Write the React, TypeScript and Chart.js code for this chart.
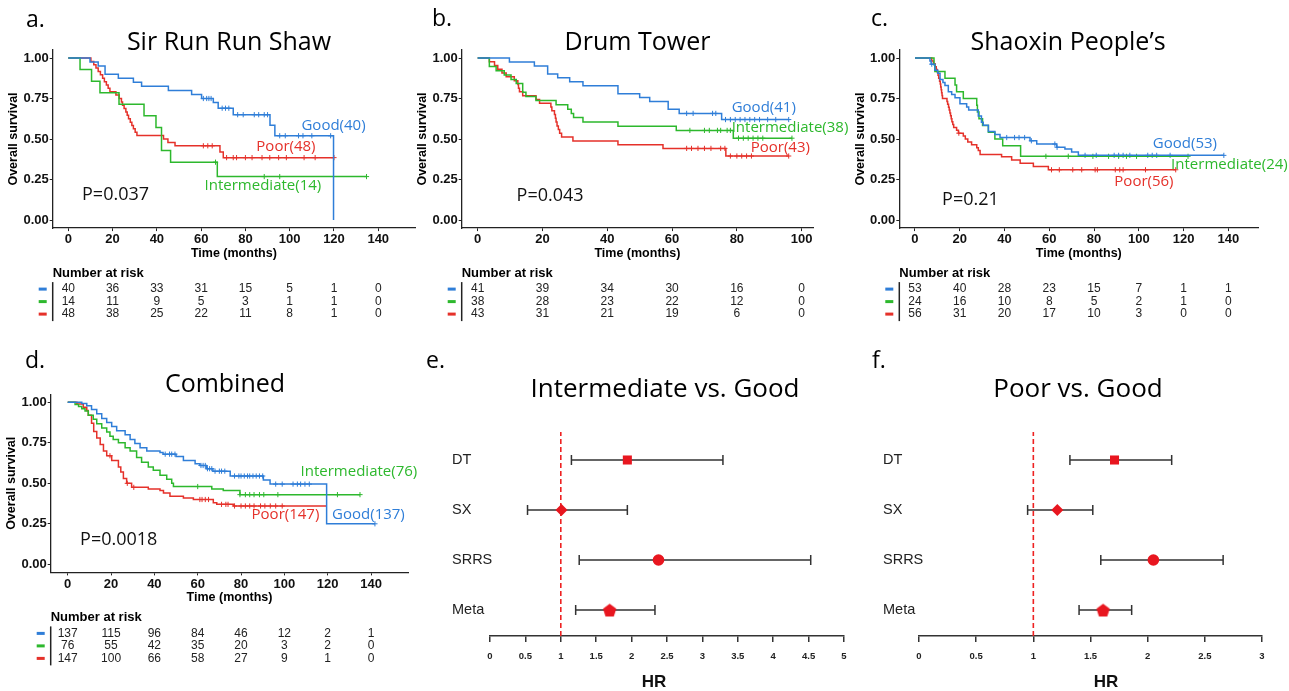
import React, { useEffect, useRef } from 'react';
import { Chart, registerables } from 'chart.js';

Chart.register(...registerables);

// ---------------- data ----------------
const GROUPS = ['Good', 'Intermediate', 'Poor'];
const STUDIES = ['DT', 'SX', 'SRRS', 'Meta'];
const ROW_POS = [4, 3, 2, 1];

// Panel a: Sir Run Run Shaw
const aGoodT = [0, 9.8, 13.5, 16.6, 22.6, 29.4, 33.1, 45.2, 55.7, 60.2, 65.5, 67.7, 74.5, 91.1, 93.3, 119.8];
const aGoodS = [1, 0.975, 0.95, 0.9, 0.875, 0.85, 0.825, 0.8, 0.775, 0.75, 0.725, 0.69, 0.65, 0.585, 0.52, 0];
const aGoodC = [61, 62.5, 63.5, 64.5, 69.5, 71, 72.5, 76.5, 79, 84, 86, 88.5, 90, 95.5, 98, 104, 106, 110, 118.5];
const aIntT = [0, 5.3, 10.5, 14.3, 22.9, 34.2, 39.6, 42.1, 46.2, 67.3, 134.7];
const aIntS = [1, 0.929, 0.857, 0.786, 0.714, 0.643, 0.571, 0.429, 0.357, 0.268, 0.268];
const aIntC = [66.5, 88.5, 95.5, 134.7];
const aPoorT = [0, 10.2, 11.5, 12.5, 13.5, 14.5, 15.5, 16.3, 17.2, 18, 18.8, 21.5, 23, 24, 24.5, 25.2, 26, 26.6, 27.2, 28, 28.7, 29.4, 30.2, 31, 43, 45, 48.2, 68.5, 70, 120];
const aPoorS = [1, 0.979, 0.958, 0.938, 0.917, 0.896, 0.875, 0.854, 0.833, 0.813, 0.792, 0.771, 0.75, 0.729, 0.708, 0.688, 0.667, 0.646, 0.625, 0.604, 0.583, 0.563, 0.542, 0.521, 0.5, 0.479, 0.458, 0.42, 0.385, 0.385];
const aPoorC = [61, 63, 65, 71.5, 74.5, 76, 80, 83, 87.5, 91, 95, 98.5, 106.5, 111.5, 120];
const aRisk = [
  [40, 36, 33, 31, 15, 5, 1, 0],
  [14, 11, 9, 5, 3, 1, 1, 0],
  [48, 38, 25, 22, 11, 8, 1, 0],
];

// Panel b: Drum Tower
const bGoodT = [0, 9.8, 17.5, 21.6, 24.7, 28.4, 32.5, 43.3, 50, 53.1, 58.8, 62.2, 75.3, 96];
const bGoodS = [1, 0.976, 0.951, 0.902, 0.878, 0.854, 0.829, 0.78, 0.756, 0.732, 0.683, 0.658, 0.62, 0.62];
const bGoodC = [64.5, 66.5, 72.5, 73.5, 76.5, 78, 79.5, 81, 82.5, 84, 85.5, 87, 89.5, 92, 96];
const bIntT = [0, 3.6, 5.7, 8.2, 10.3, 11.9, 13.9, 14.9, 18, 24.2, 27.8, 28.9, 29.6, 32.5, 43.3, 61.3, 78.9, 97];
const bIntS = [1, 0.947, 0.921, 0.895, 0.868, 0.842, 0.789, 0.763, 0.737, 0.711, 0.684, 0.658, 0.632, 0.605, 0.579, 0.553, 0.505, 0.505];
const bIntC = [65.5, 70, 71.5, 74, 75, 77, 78, 80.5, 82, 83.5, 85, 86.5, 88, 97];
const bPoorT = [0, 3.6, 5.2, 6.2, 7.5, 8.8, 11.3, 12.4, 12.6, 12.9, 13.9, 18, 19.1, 22.6, 22.9, 23.7, 24.0, 24.2, 24.5, 24.9, 25.3, 25.9, 29.4, 43.3, 57.2, 76.6, 96];
const bPoorS = [1, 0.977, 0.953, 0.93, 0.907, 0.884, 0.86, 0.837, 0.814, 0.791, 0.767, 0.744, 0.721, 0.698, 0.674, 0.651, 0.628, 0.605, 0.581, 0.558, 0.535, 0.512, 0.488, 0.465, 0.442, 0.395, 0.395];
const bPoorC = [64.5, 66, 68, 70, 72, 75, 76.3, 78, 80, 81.5, 83, 84.5, 96];
const bRisk = [
  [41, 39, 34, 30, 16, 0],
  [38, 28, 23, 22, 12, 0],
  [43, 31, 21, 19, 6, 0],
];

// Panel c: Shaoxin People's
const cGoodT = [0, 6.7, 7.2, 8.9, 10.2, 11.2, 12.5, 13.4, 14.9, 16.4, 17.9, 20.1, 23.1, 24, 28.3, 29.7, 30.5, 32.8, 35.7, 38, 51.4, 54.4, 63.3, 67, 70, 73, 138];
const cGoodS = [1, 0.981, 0.962, 0.925, 0.906, 0.868, 0.849, 0.83, 0.792, 0.774, 0.755, 0.717, 0.698, 0.679, 0.642, 0.604, 0.585, 0.547, 0.528, 0.509, 0.489, 0.469, 0.449, 0.439, 0.419, 0.399, 0.399];
const cGoodC = [7.5, 41, 44.5, 46.5, 49, 52, 62.5, 63.5, 76, 81, 89, 91, 93, 96, 104, 106, 108, 114, 138];
const cIntT = [0, 8.5, 8.9, 13.4, 17.9, 18.6, 21.6, 27.6, 27.9, 28.6, 30.2, 32.8, 35.7, 39.2, 47.2, 122];
const cIntS = [1, 0.958, 0.917, 0.875, 0.833, 0.792, 0.75, 0.708, 0.667, 0.625, 0.583, 0.542, 0.5, 0.458, 0.393, 0.393];
const cIntC = [58.5, 68.5, 79.5, 86.5, 91, 94.5, 99, 122];
const cPoorT = [0, 7.5, 8.3, 9, 9.5, 10, 10.3, 10.6, 11, 11.3, 11.5, 11.7, 11.9, 12.1, 12.3, 14.3, 14.6, 15, 15.3, 15.6, 15.9, 16.2, 16.5, 16.9, 17.3, 18.6, 19.4, 21.6, 22.5, 23.6, 25.3, 27.6, 28.3, 29.1, 38.7, 43.2, 47, 52.9, 59.6, 116.5];
const cPoorS = [1, 0.982, 0.964, 0.946, 0.929, 0.911, 0.893, 0.875, 0.857, 0.839, 0.821, 0.804, 0.786, 0.768, 0.75, 0.732, 0.714, 0.696, 0.679, 0.661, 0.643, 0.625, 0.607, 0.589, 0.571, 0.554, 0.536, 0.518, 0.5, 0.482, 0.464, 0.446, 0.429, 0.405, 0.39, 0.37, 0.35, 0.33, 0.31, 0.31];
const cPoorC = [19.6, 61, 64.5, 70.5, 74.5, 80.5, 81.5, 89.5, 91.5, 93, 103, 116.5];
const cRisk = [
  [53, 40, 28, 23, 15, 7, 1, 1],
  [24, 16, 10, 8, 5, 2, 1, 0],
  [56, 31, 20, 17, 10, 3, 0, 0],
];

// Panel d: Combined
const dGoodT = [0, 6.5, 8.8, 11, 13.4, 15.7, 18, 20.3, 22.6, 26.5, 28.8, 31, 33.4, 36.5, 42.6, 44, 50, 53.4, 58.8, 61, 64, 67, 75, 90.3, 93.4, 119.5, 141.8];
const dGoodS = [1, 0.993, 0.978, 0.956, 0.93, 0.9, 0.875, 0.85, 0.825, 0.8, 0.77, 0.745, 0.72, 0.7, 0.69, 0.68, 0.665, 0.64, 0.62, 0.61, 0.59, 0.575, 0.545, 0.52, 0.495, 0.25, 0.25];
const dGoodC = [45, 47, 48, 49.5, 61.5, 62.5, 63.5, 64.5, 65.5, 66.5, 68, 70, 71, 72.5, 77, 79, 80, 81.5, 83, 84, 85.5, 87, 88.5, 90, 96, 99, 104, 106, 107.5, 109.5, 111.5, 141.8];
const dIntT = [0, 3.4, 5, 6.5, 8, 9.5, 11.8, 13.4, 15.7, 18, 19.5, 21, 23.4, 26.5, 28.8, 31.8, 34.1, 37.2, 39.5, 42.6, 45.7, 48, 48.8, 66.5, 71.8, 79.5, 134.9];
const dIntS = [1, 0.987, 0.974, 0.96, 0.947, 0.92, 0.895, 0.868, 0.842, 0.816, 0.79, 0.77, 0.75, 0.72, 0.7, 0.66, 0.63, 0.6, 0.58, 0.55, 0.525, 0.5, 0.48, 0.465, 0.455, 0.43, 0.43];
const dIntC = [60, 79.5, 82, 84, 86, 88.5, 90.5, 97, 124.5, 134.9];
const dPoorT = [0, 4.2, 7.2, 8.8, 9.5, 11, 12, 13.4, 15, 16.5, 18, 20.3, 23.4, 24.5, 25.7, 27.2, 29.5, 37.2, 42.6, 44.2, 47.2, 53.4, 58, 67.2, 68.8, 76.5, 119.5];
const dPoorS = [1, 0.99, 0.97, 0.95, 0.92, 0.87, 0.82, 0.78, 0.74, 0.7, 0.67, 0.64, 0.6, 0.57, 0.53, 0.5, 0.475, 0.465, 0.455, 0.44, 0.42, 0.41, 0.4, 0.38, 0.37, 0.36, 0.36];
const dPoorC = [19.5, 27.5, 30.5, 61, 62, 63.5, 65, 71, 73, 74, 77, 80, 82, 84, 86, 89, 91, 93.5, 96, 99];
const dRisk = [
  [137, 115, 96, 84, 46, 12, 2, 1],
  [76, 55, 42, 35, 20, 3, 2, 0],
  [147, 100, 66, 58, 27, 9, 1, 0],
];

const TICKS_140 = [0, 20, 40, 60, 80, 100, 120, 140];
const TICKS_100 = [0, 20, 40, 60, 80, 100];
const Y_TICKS = [0, 0.25, 0.5, 0.75, 1];

// Forest e: Intermediate vs. Good
const eHR = [1.94, 1.01, 2.38, 1.69];
const eLow = [1.15, 0.53, 1.26, 1.21];
const eHigh = [3.29, 1.94, 4.53, 2.33];
// Forest f: Poor vs. Good
const fHR = [1.71, 1.21, 2.05, 1.61];
const fLow = [1.32, 0.95, 1.59, 1.40];
const fHigh = [2.21, 1.52, 2.66, 1.86];

// ---------------- styles ----------------
const BLUE = '#2F7ED8';
const GREEN = '#2DB82D';
const RED = '#E5312A';
const COLORS = [BLUE, GREEN, RED];
const F_RED = '#E8161F';
const SANS = '"Open Sans", "Noto Sans", sans-serif';
const ARIAL = '"Liberation Sans", Arial, sans-serif';

type Box = { left: number; top: number; width: number; height: number };
type Area = { l: number; t: number; r: number; b: number };
type Curve = { t: number[]; s: number[]; c: number[] };
type KMPanel = {
  box: Box; area: Area; xMin: number; xMax: number; xTicks: number[];
  curves: Curve[]; risk: number[][];
  letter: string; letterX: number; letterY: number;
  title: string; titleX: number; titleY: number;
  labelPos: number[][]; pValue: string; pPos: number[];
};
type ForestPanel = {
  box: Box; area: Area; xMax: number;
  letter: string; letterX: number; letterY: number;
  title: string; titleX: number; titleY: number;
  labelX: number; hrX: number; hrY: number;
  hr: number[]; lo: number[]; hi: number[];
};

const KM_PANELS: KMPanel[] = [
  {
    box: { left: 0, top: 0, width: 430, height: 345 },
    area: { l: 52.7, t: 49.9, r: 415, b: 228.1 },
    xMin: -7.05, xMax: 156.6, xTicks: TICKS_140,
    curves: [{ t: aGoodT, s: aGoodS, c: aGoodC }, { t: aIntT, s: aIntS, c: aIntC }, { t: aPoorT, s: aPoorS, c: aPoorC }],
    risk: aRisk, letter: 'a.', letterX: 26, letterY: 27,
    title: 'Sir Run Run Shaw', titleX: 229, titleY: 50,
    labelPos: [[119.8, 0.58], [87.9, 0.21], [98.3, 0.45]], pValue: 'P=0.037', pPos: [6.2, 0.154],
  },
  {
    box: { left: 410, top: 0, width: 450, height: 345 },
    area: { l: 461.7, t: 49.9, r: 813, b: 228.1 },
    xMin: -4.93, xMax: 103.5, xTicks: TICKS_100,
    curves: [{ t: bGoodT, s: bGoodS, c: bGoodC }, { t: bIntT, s: bIntS, c: bIntC }, { t: bPoorT, s: bPoorS, c: bPoorC }],
    risk: bRisk, letter: 'b.', letterX: 432, letterY: 26,
    title: 'Drum Tower', titleX: 637.5, titleY: 50,
    labelPos: [[88.3, 0.69], [96.4, 0.568], [93.4, 0.444]], pValue: 'P=0.043', pPos: [12, 0.148],
  },
  {
    box: { left: 845, top: 0, width: 444, height: 345 },
    area: { l: 899.3, t: 49.9, r: 1258.3, b: 228.1 },
    xMin: -7.0, xMax: 153.4, xTicks: TICKS_140,
    curves: [{ t: cGoodT, s: cGoodS, c: cGoodC }, { t: cIntT, s: cIntS, c: cIntC }, { t: cPoorT, s: cPoorS, c: cPoorC }],
    risk: cRisk, letter: 'c.', letterX: 871, letterY: 26,
    title: 'Shaoxin People’s', titleX: 1068, titleY: 50,
    labelPos: [[120.6, 0.469], [140.5, 0.34], [102.3, 0.235]], pValue: 'P=0.21', pPos: [12.1, 0.123],
  },
  {
    box: { left: 0, top: 345, width: 422, height: 346 },
    area: { l: 50.7, t: 394.2, r: 408.3, b: 572.4 },
    xMin: -7.85, xMax: 157.2, xTicks: TICKS_140,
    curves: [{ t: dGoodT, s: dGoodS, c: dGoodC }, { t: dIntT, s: dIntS, c: dIntC }, { t: dPoorT, s: dPoorS, c: dPoorC }],
    risk: dRisk, letter: 'd.', letterX: 25, letterY: 368,
    title: 'Combined', titleX: 225, titleY: 392,
    labelPos: [[138.8, 0.304], [134.4, 0.57], [100.5, 0.304]], pValue: 'P=0.0018', pPos: [5.7, 0.15],
  },
];

const FOREST_PANELS: ForestPanel[] = [
  {
    box: { left: 422, top: 345, width: 438, height: 346 },
    area: { l: 490, t: 432, r: 844, b: 636 }, xMax: 5,
    letter: 'e.', letterX: 426, letterY: 368,
    title: 'Intermediate vs. Good', titleX: 665, titleY: 397,
    labelX: 452, hrX: 654, hrY: 682, hr: eHR, lo: eLow, hi: eHigh,
  },
  {
    box: { left: 860, top: 345, width: 429, height: 346 },
    area: { l: 919, t: 432, r: 1262, b: 636 }, xMax: 3,
    letter: 'f.', letterX: 872, letterY: 368,
    title: 'Poor vs. Good', titleX: 1078, titleY: 397,
    labelX: 883, hrX: 1106, hrY: 682, hr: fHR, lo: fLow, hi: fHigh,
  },
];

// ---------------- helpers ----------------
function survAt(t: number[], s: number[], x: number) {
  let v = s[0];
  for (let i = 0; i < t.length; i++) if (t[i] <= x) v = s[i];
  return v;
}

function kmPlugin(p: KMPanel) {
  return {
    id: 'kmText',
    afterDraw(chart: any) {
      const ctx = chart.ctx as CanvasRenderingContext2D;
      const xs = chart.scales.x;
      const ys = chart.scales.y;
      const ca = chart.chartArea;
      const ox = p.box.left;
      const oy = p.box.top;
      ctx.save();
      ctx.fillStyle = '#000';
      ctx.textBaseline = 'alphabetic';
      ctx.textAlign = 'left';
      ctx.font = `23px ${SANS}`;
      ctx.fillText(p.letter, p.letterX - ox, p.letterY - oy);
      ctx.font = `25px ${SANS}`;
      ctx.textAlign = 'center';
      ctx.fillText(p.title, p.titleX - ox, p.titleY - oy);

      // axis titles
      ctx.save();
      ctx.translate(ca.left - 39, (ys.getPixelForValue(0) + ys.getPixelForValue(1)) / 2);
      ctx.rotate(-Math.PI / 2);
      ctx.font = `bold 12.5px ${ARIAL}`;
      ctx.textAlign = 'center';
      ctx.textBaseline = 'middle';
      ctx.fillText('Overall survival', 0, 0);
      ctx.restore();
      ctx.font = `bold 12.5px ${ARIAL}`;
      ctx.textAlign = 'center';
      ctx.textBaseline = 'middle';
      ctx.fillText('Time (months)', (ca.left + ca.right) / 2, ca.bottom + 25);

      // curve labels
      ctx.font = `15px ${SANS}`;
      p.labelPos.forEach((pos, i) => {
        ctx.fillStyle = COLORS[i];
        ctx.fillText(`${GROUPS[i]}(${p.risk[i][0]})`, xs.getPixelForValue(pos[0]), ys.getPixelForValue(pos[1]));
      });
      // p value
      ctx.fillStyle = '#111';
      ctx.font = `18px ${SANS}`;
      ctx.textAlign = 'left';
      ctx.fillText(p.pValue, xs.getPixelForValue(p.pPos[0]), ys.getPixelForValue(p.pPos[1]));

      // risk table
      ctx.fillStyle = '#000';
      ctx.font = `bold 13px ${ARIAL}`;
      ctx.fillText('Number at risk', ca.left, ca.bottom + 45);
      const rowY = [61, 73.5, 86];
      ctx.font = `12px ${ARIAL}`;
      ctx.textAlign = 'center';
      p.risk.forEach((row, i) => {
        const y = ca.bottom + rowY[i];
        ctx.fillStyle = COLORS[i];
        ctx.fillRect(ca.left - 14, y - 1.5, 8, 3);
        ctx.fillStyle = '#222';
        row.forEach((n, j) => {
          ctx.fillText(String(n), xs.getPixelForValue(p.xTicks[j]), y);
        });
      });
      ctx.strokeStyle = '#222';
      ctx.lineWidth = 1.5;
      ctx.beginPath();
      ctx.moveTo(ca.left, ca.bottom + 54);
      ctx.lineTo(ca.left, ca.bottom + 93);
      ctx.stroke();
      ctx.restore();
    },
  };
}

function makeKM(cv: HTMLCanvasElement, p: KMPanel) {
  const W = p.box.width;
  const H = p.box.height;
  const a = { l: p.area.l - p.box.left, t: p.area.t - p.box.top, r: p.area.r - p.box.left, b: p.area.b - p.box.top };
  const datasets: any[] = [];
  p.curves.forEach((c, i) => {
    datasets.push({
      type: 'line',
      data: c.t.map((t, j) => ({ x: t, y: c.s[j] })),
      borderColor: COLORS[i],
      borderWidth: 1.5,
      stepped: 'before',
      pointRadius: 0,
      fill: false,
    });
  });
  p.curves.forEach((c, i) => {
    datasets.push({
      type: 'line',
      showLine: false,
      data: c.c.map((t) => ({ x: t, y: survAt(c.t, c.s, t) })),
      pointStyle: 'cross',
      pointRadius: 2.6,
      pointBorderWidth: 1,
      borderColor: COLORS[i],
      backgroundColor: COLORS[i],
    });
  });
  const tickFont = { family: ARIAL, size: 13, weight: 'bold' as const };
  return new Chart(cv, {
    type: 'line',
    data: { datasets },
    options: {
      responsive: false,
      animation: false,
      events: [],
      layout: { padding: { left: 0, top: a.t, right: W - a.r, bottom: 0 } },
      plugins: { legend: { display: false }, tooltip: { enabled: false }, title: { display: false } },
      scales: {
        x: {
          type: 'linear',
          min: p.xMin,
          max: p.xMax,
          afterBuildTicks: (s: any) => { s.ticks = p.xTicks.map((v) => ({ value: v })); },
          afterFit: (s: any) => { s.height = H - a.b; },
          grid: { drawOnChartArea: false, drawTicks: true, tickLength: 3, color: '#222', lineWidth: 1 },
          border: { display: true, color: '#222', width: 1.3 },
          ticks: { font: tickFont, color: '#111', padding: 1, maxRotation: 0, autoSkip: false, callback: (v: any) => String(v) },
        },
        y: {
          type: 'linear',
          min: -0.05,
          max: 1.05,
          afterBuildTicks: (s: any) => { s.ticks = Y_TICKS.map((v) => ({ value: v })); },
          afterFit: (s: any) => { s.width = a.l; },
          grid: { drawOnChartArea: false, drawTicks: true, tickLength: 3, color: '#222', lineWidth: 1 },
          border: { display: true, color: '#222', width: 1.3 },
          ticks: { font: tickFont, color: '#111', padding: 1, callback: (v: any) => Number(v).toFixed(2) },
        },
      },
    } as any,
    plugins: [kmPlugin(p)],
  });
}

function pentagon(size: number, color: string) {
  const c = document.createElement('canvas');
  c.width = size;
  c.height = size;
  const ctx = c.getContext('2d')!;
  const r = size / 2 - 0.5;
  ctx.fillStyle = color;
  ctx.beginPath();
  for (let k = 0; k < 5; k++) {
    const ang = -Math.PI / 2 + (k * 2 * Math.PI) / 5;
    const x = size / 2 + r * Math.cos(ang);
    const y = size / 2 + 0.8 + r * Math.sin(ang);
    if (k === 0) ctx.moveTo(x, y); else ctx.lineTo(x, y);
  }
  ctx.closePath();
  ctx.fill();
  return c;
}

const Y_MIN = 0.48;
const Y_MAX = 4.56;

function forestPlugin(p: ForestPanel) {
  return {
    id: 'forestDraw',
    beforeDatasetsDraw(chart: any) {
      const ctx = chart.ctx as CanvasRenderingContext2D;
      const xs = chart.scales.x;
      const ys = chart.scales.y;
      ctx.save();
      ctx.strokeStyle = '#333';
      ctx.lineWidth = 1.5;
      p.hr.forEach((_, i) => {
        const y = ys.getPixelForValue(ROW_POS[i]);
        const x1 = xs.getPixelForValue(p.lo[i]);
        const x2 = xs.getPixelForValue(p.hi[i]);
        ctx.beginPath();
        ctx.moveTo(x1, y); ctx.lineTo(x2, y);
        ctx.moveTo(x1, y - 5); ctx.lineTo(x1, y + 5);
        ctx.moveTo(x2, y - 5); ctx.lineTo(x2, y + 5);
        ctx.stroke();
      });
      ctx.restore();
    },
    afterDraw(chart: any) {
      const ctx = chart.ctx as CanvasRenderingContext2D;
      const ys = chart.scales.y;
      const ox = p.box.left;
      const oy = p.box.top;
      ctx.save();
      ctx.fillStyle = '#000';
      ctx.textBaseline = 'alphabetic';
      ctx.textAlign = 'left';
      ctx.font = `23px ${SANS}`;
      ctx.fillText(p.letter, p.letterX - ox, p.letterY - oy);
      ctx.font = `26px ${SANS}`;
      ctx.textAlign = 'center';
      ctx.fillText(p.title, p.titleX - ox, p.titleY - oy);
      ctx.font = `14.5px ${ARIAL}`;
      ctx.textAlign = 'left';
      ctx.textBaseline = 'middle';
      ctx.fillStyle = '#222';
      STUDIES.forEach((s, i) => {
        ctx.fillText(s, p.labelX - ox, ys.getPixelForValue(ROW_POS[i]));
      });
      ctx.font = `bold 17px ${ARIAL}`;
      ctx.textAlign = 'center';
      ctx.fillStyle = '#111';
      ctx.fillText('HR', p.hrX - ox, p.hrY - oy);
      ctx.restore();
    },
  };
}

function makeForest(cv: HTMLCanvasElement, p: ForestPanel) {
  const W = p.box.width;
  const H = p.box.height;
  const a = { l: p.area.l - p.box.left, t: p.area.t - p.box.top, r: p.area.r - p.box.left, b: p.area.b - p.box.top };
  const pent = pentagon(15, F_RED);
  return new Chart(cv, {
    type: 'scatter',
    data: {
      datasets: [
        {
          type: 'scatter',
          data: p.hr.map((v, i) => ({ x: v, y: ROW_POS[i] })),
          pointStyle: ['rect', 'rectRot', 'circle', pent] as any,
          pointRadius: [6.4, 6, 5.8, 7],
          backgroundColor: F_RED,
          borderColor: F_RED,
          borderWidth: 0,
        },
        {
          type: 'line',
          data: [{ x: 1, y: Y_MIN }, { x: 1, y: Y_MAX }],
          borderColor: '#EE2222',
          borderDash: [5, 3],
          borderWidth: 1.6,
          pointRadius: 0,
        },
      ],
    },
    options: {
      responsive: false,
      animation: false,
      events: [],
      layout: { padding: { left: a.l, top: a.t, right: W - a.r, bottom: 0 } },
      plugins: { legend: { display: false }, tooltip: { enabled: false } },
      scales: {
        x: {
          type: 'linear',
          min: 0,
          max: p.xMax,
          afterFit: (s: any) => { s.height = H - a.b; },
          grid: { drawOnChartArea: false, drawTicks: true, tickLength: 6, color: '#333', lineWidth: 1.5 },
          border: { display: true, color: '#333', width: 1.5 },
          ticks: { stepSize: 0.5, font: { family: ARIAL, size: 9.5, weight: 'bold' }, color: '#222', padding: 9, maxRotation: 0, autoSkip: false, callback: (v: any) => String(v) },
        },
        y: { type: 'linear', display: false, min: Y_MIN, max: Y_MAX },
      },
    } as any,
    plugins: [forestPlugin(p)],
  });
}

function ChartCanvas({ box, make }: { box: Box; make: (cv: HTMLCanvasElement) => Chart }) {
  const ref = useRef<HTMLCanvasElement>(null);
  useEffect(() => {
    const ch = make(ref.current as HTMLCanvasElement);
    return () => ch.destroy();
  }, []);
  return (
    <canvas
      ref={ref}
      width={box.width}
      height={box.height}
      style={{ position: 'absolute', left: box.left, top: box.top, width: box.width, height: box.height }}
    />
  );
}

export default function App() {
  return (
    <div style={{ position: 'absolute', left: 0, top: 0, width: 1289, height: 691, background: '#fff', overflow: 'hidden' }}>
      {KM_PANELS.map((p, i) => (
        <ChartCanvas key={'km' + i} box={p.box} make={(cv) => makeKM(cv, p)} />
      ))}
      {FOREST_PANELS.map((p, i) => (
        <ChartCanvas key={'fp' + i} box={p.box} make={(cv) => makeForest(cv, p)} />
      ))}
    </div>
  );
}
